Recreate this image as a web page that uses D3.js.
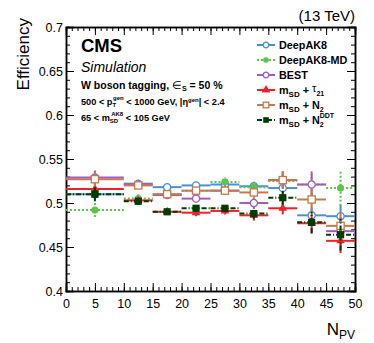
<!DOCTYPE html>
<meta charset="utf-8">
<style>
  body { margin: 0; background: #fff; }
  svg { font-family: 'Liberation Sans', Arial, sans-serif; }
  .axis path { stroke: #000; stroke-width: 1.5; fill: none; }
  .axis line { stroke: #000; stroke-width: 1; }
  .axis text { font-size: 12.5px; fill: #000; }
</style>
<body>
<svg id="chart" width="374" height="343"></svg>
<script src="https://cdn.jsdelivr.net/npm/d3@7"></script>
<script>
// bins in N_PV
var binLo = [0, 10, 15, 20, 25, 30, 35, 40, 45];
var binHi = [10, 15, 20, 25, 30, 35, 40, 45, 50];

// efficiencies
var deepAK8   = [0.510, 0.522, 0.518, 0.520, 0.521, 0.519, 0.517, 0.486, 0.485];
var deepAK8MD = [0.492, 0.505, 0.510, 0.514, 0.524, 0.518, 0.525, 0.521, 0.517];
var best      = [0.529, 0.521, 0.509, 0.505, 0.514, 0.500, 0.526, 0.521, 0.468];
var tau21     = [0.516, 0.503, 0.490, 0.489, 0.491, 0.486, 0.494, 0.477, 0.457];
var n2        = [0.527, 0.520, 0.510, 0.514, 0.514, 0.512, 0.526, 0.504, 0.474];
var n2ddt     = [0.510, 0.502, 0.490, 0.494, 0.494, 0.488, 0.506, 0.478, 0.464];

// stat. uncertainties (estimated)
var errDeepAK8   = [0.007, 0.004, 0.003, 0.003, 0.004, 0.005, 0.006, 0.009, 0.013];
var errDeepAK8MD = [0.008, 0.005, 0.004, 0.004, 0.005, 0.007, 0.008, 0.012, 0.020];
var errBest      = [0.008, 0.004, 0.004, 0.004, 0.005, 0.006, 0.010, 0.015, 0.016];
var errTau21     = [0.008, 0.004, 0.003, 0.004, 0.004, 0.006, 0.007, 0.012, 0.014];
var errN2        = [0.008, 0.004, 0.003, 0.004, 0.004, 0.006, 0.010, 0.013, 0.016];
var errN2ddt     = [0.008, 0.004, 0.003, 0.004, 0.004, 0.006, 0.008, 0.012, 0.018];

var xTicks = [0, 5, 10, 15, 20, 25, 30, 35, 40, 45, 50];
var yTicks = [0.4, 0.45, 0.5, 0.55, 0.6, 0.65, 0.7];

var series = [
  { name: "DeepAK8",    vals: deepAK8,   errs: errDeepAK8,   color: "#4a8fd4", dash: null,      marker: "openCircle" },
  { name: "DeepAK8-MD", vals: deepAK8MD, errs: errDeepAK8MD, color: "#5cc44a", dash: "2,2",     marker: "circle" },
  { name: "BEST",       vals: best,      errs: errBest,      color: "#a05cc4", dash: null,      marker: "openCircle" },
  { name: "tau21",      vals: tau21,     errs: errTau21,     color: "#f0202a", dash: null,      marker: "triangle" },
  { name: "N2",         vals: n2,        errs: errN2,        color: "#c8784a", dash: null,      marker: "openSquare" },
  { name: "N2DDT",      vals: n2ddt,     errs: errN2ddt,     color: "#003b00", dash: "5,2,1,2", marker: "square" }
];

var margin = { top: 27, right: 19, bottom: 52, left: 66 };
var width = 374 - margin.left - margin.right,
    height = 343 - margin.top - margin.bottom;

var svg = d3.select("#chart");
var g = svg.append("g").attr("transform", "translate(" + margin.left + "," + margin.top + ")");

var x = d3.scaleLinear().domain([0, 50]).range([0, width]);
var y = d3.scaleLinear().domain([0.4, 0.7]).range([height, 0]);

// minor ticks first, then major ticks with labels
var xMinor = d3.range(0, 51, 1), yMinor = d3.range(40, 71, 1).map(function (d) { return d / 100; });

g.append("g").attr("class", "axis").attr("transform", "translate(0," + height + ")")
  .call(d3.axisBottom(x).tickValues(xMinor).tickSize(-4).tickFormat(""));
g.append("g").attr("class", "axis")
  .call(d3.axisTop(x).tickValues(xMinor).tickSize(-4).tickFormat(""));
g.append("g").attr("class", "axis")
  .call(d3.axisLeft(y).tickValues(yMinor).tickSize(-4).tickFormat(""));
g.append("g").attr("class", "axis").attr("transform", "translate(" + width + ",0)")
  .call(d3.axisRight(y).tickValues(yMinor).tickSize(-4).tickFormat(""));

g.append("g").attr("class", "axis").attr("transform", "translate(0," + height + ")")
  .call(d3.axisBottom(x).tickValues(xTicks).tickSize(-8).tickPadding(4).tickFormat(d3.format("d")))
  .selectAll("text").attr("dy", "1.05em");
g.append("g").attr("class", "axis")
  .call(d3.axisTop(x).tickValues(xTicks).tickSize(-8).tickFormat(""));
g.append("g").attr("class", "axis")
  .call(d3.axisLeft(y).tickValues(yTicks).tickSize(-8).tickPadding(3).tickFormat(function (d) { return String(+d.toFixed(2)); }));
g.append("g").attr("class", "axis").attr("transform", "translate(" + width + ",0)")
  .call(d3.axisRight(y).tickValues(yTicks).tickSize(-8).tickFormat(""));

// marker drawing
function drawMarker(sel, type, color, size) {
  var s = size || 3.6;
  if (type === "openCircle") {
    sel.append("circle").attr("r", s).attr("fill", "#fff").attr("stroke", color).attr("stroke-width", 1.3);
  } else if (type === "circle") {
    sel.append("circle").attr("r", s).attr("fill", color);
  } else if (type === "triangle") {
    sel.append("path").attr("d", d3.symbol(d3.symbolTriangle, 32)()).attr("fill", color);
  } else if (type === "openSquare") {
    sel.append("rect").attr("x", -s).attr("y", -s).attr("width", 2 * s).attr("height", 2 * s)
      .attr("fill", "#fff").attr("stroke", color).attr("stroke-width", 1.3);
  } else if (type === "square") {
    sel.append("rect").attr("x", -s).attr("y", -s).attr("width", 2 * s).attr("height", 2 * s).attr("fill", color);
  }
}

var plot = g.append("g");
series.forEach(function (s) {
  var pts = s.vals.map(function (v, i) { return { lo: binLo[i], hi: binHi[i], v: v, e: s.errs[i] }; });
  var grp = plot.append("g");
  // horizontal bin lines
  grp.selectAll("line.h").data(pts).enter().append("line")
    .attr("x1", function (d) { return x(d.lo); })
    .attr("x2", function (d) { return x(d.hi); })
    .attr("y1", function (d) { return y(d.v); })
    .attr("y2", function (d) { return y(d.v); })
    .attr("stroke", s.color).attr("stroke-width", 2)
    .attr("stroke-dasharray", s.dash);
  // vertical error bars
  grp.selectAll("line.v").data(pts).enter().append("line")
    .attr("x1", function (d) { return x((d.lo + d.hi) / 2); })
    .attr("x2", function (d) { return x((d.lo + d.hi) / 2); })
    .attr("y1", function (d) { return y(d.v - d.e); })
    .attr("y2", function (d) { return y(d.v + d.e); })
    .attr("stroke", s.color).attr("stroke-width", 2)
    .attr("stroke-dasharray", s.dash);
  grp.selectAll("g.m").data(pts).enter().append("g")
    .attr("transform", function (d) { return "translate(" + x((d.lo + d.hi) / 2) + "," + y(d.v) + ")"; })
    .each(function () { drawMarker(d3.select(this), s.marker, s.color); });
});

// legend
var legY = [45, 60, 75, 90, 105, 120];
var leg = svg.append("g");
series.forEach(function (s, i) {
  var row = leg.append("g").attr("transform", "translate(0," + legY[i] + ")");
  row.append("line").attr("x1", 257).attr("x2", 275).attr("y1", 0).attr("y2", 0)
    .attr("stroke", s.color).attr("stroke-width", 2).attr("stroke-dasharray", s.dash);
  drawMarker(row.append("g").attr("transform", "translate(266,0)"), s.marker, s.color, 2.8);
});
var legText = leg.append("g").attr("font-size", "10.8px").attr("font-weight", "bold");
legText.append("text").attr("x", 279).attr("y", legY[0] + 4).text("DeepAK8");
legText.append("text").attr("x", 279).attr("y", legY[1] + 4).text("DeepAK8-MD");
legText.append("text").attr("x", 279).attr("y", legY[2] + 4).text("BEST");
var t4 = legText.append("text").attr("x", 279).attr("y", legY[3] + 4);
t4.append("tspan").text("m");
t4.append("tspan").attr("font-size", "8px").attr("dy", 3).text("SD");
t4.append("tspan").attr("dy", -3).text(" + ");
t4.append("tspan").attr("font-weight", "normal").attr("font-size", "11px").attr("dy", -2).text("\u03c4");
t4.append("tspan").attr("font-size", "7px").attr("dy", 4).text("21");
var t5 = legText.append("text").attr("x", 279).attr("y", legY[4] + 4);
t5.append("tspan").text("m");
t5.append("tspan").attr("font-size", "8px").attr("dy", 3).text("SD");
t5.append("tspan").attr("dy", -3).text(" + N");
t5.append("tspan").attr("font-size", "7px").attr("dy", 3).text("2");
var t6 = legText.append("text").attr("x", 279).attr("y", legY[5] + 4);
t6.append("tspan").text("m");
t6.append("tspan").attr("font-size", "8px").attr("dy", 3).text("SD");
t6.append("tspan").attr("dy", -3).text(" + N");
t6.append("tspan").attr("font-size", "7px").attr("dy", 3).text("2");
t6.append("tspan").attr("font-size", "7px").attr("dx", -4).attr("dy", -9).text("DDT");

// CMS labels
svg.append("text").attr("x", 355).attr("y", 21).attr("text-anchor", "end")
  .attr("font-size", "15px").text("(13 TeV)");
svg.append("text").attr("x", 81).attr("y", 52).attr("font-size", "18.5px").attr("font-weight", "bold").text("CMS");
svg.append("text").attr("x", 81).attr("y", 72).attr("font-size", "14px").attr("font-style", "italic").text("Simulation");
var w = svg.append("text").attr("x", 81).attr("y", 89).attr("font-size", "10.5px").attr("font-weight", "bold");
w.append("tspan").text("W boson tagging,  ");
w.append("tspan").attr("font-weight", "normal").text("\u2208");
w.append("tspan").attr("font-size", "7px").attr("dy", 2).text("S");
w.append("tspan").attr("dy", -2).text(" = 50 %");
var p = svg.append("text").attr("x", 81).attr("y", 105).attr("font-size", "9.2px").attr("font-weight", "bold");
p.append("tspan").text("500 < p");
p.append("tspan").attr("font-size", "6px").attr("dy", 2).text("T");
p.append("tspan").attr("font-size", "6px").attr("dx", -3).attr("dy", -7).text("gen");
p.append("tspan").attr("dy", 5).text(" < 1000 GeV, |\u03b7");
p.append("tspan").attr("font-size", "6px").attr("dy", -3).text("gen");
p.append("tspan").attr("dy", 3).text("| < 2.4");
var m = svg.append("text").attr("x", 81).attr("y", 121).attr("font-size", "9.2px").attr("font-weight", "bold");
m.append("tspan").text("65 < m");
m.append("tspan").attr("font-size", "6px").attr("dy", 2).text("SD");
m.append("tspan").attr("font-size", "6px").attr("dx", -7).attr("dy", -7).text("AK8");
m.append("tspan").attr("dy", 5).text(" < 105 GeV");

// axis titles
svg.append("text").attr("transform", "translate(29,18) rotate(-90)").attr("text-anchor", "end")
  .attr("font-size", "17px").text("Efficiency");
var xl = svg.append("text").attr("x", 355).attr("y", 335).attr("text-anchor", "end").attr("font-size", "17px");
xl.append("tspan").text("N");
xl.append("tspan").attr("font-size", "12px").attr("dy", 4).text("PV");
</script>
</body>
